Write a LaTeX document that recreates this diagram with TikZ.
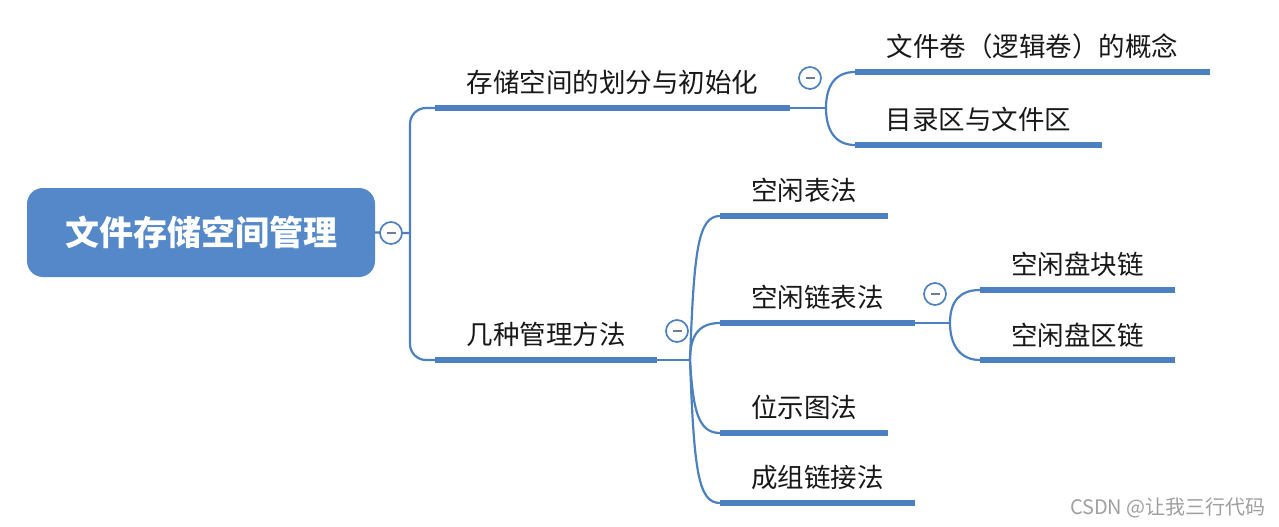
\documentclass[tikz,border=0pt]{standalone}
\usepackage{fontspec}
\setmainfont{Noto Sans CJK SC}
\newfontfamily\cjk{Noto Sans CJK SC}
\definecolor{mblue}{RGB}{76,128,192}
\definecolor{rootblue}{RGB}{84,136,201}
\definecolor{txt}{RGB}{24,24,24}
\definecolor{minusgray}{RGB}{110,125,150}
\begin{document}
\begin{tikzpicture}[x=1pt,y=-1pt,
  topic/.style={anchor=south west,inner sep=0pt,minimum height=50pt,
    font=\cjk\fontsize{26.5}{30}\selectfont,text=txt},
  uline/.style={draw=mblue,line width=5.5pt},
  conn/.style={draw=mblue,line width=2.2pt,rounded corners=16pt},
  fold/.style={circle,draw=mblue,line width=1.7pt,fill=white,minimum size=22pt,inner sep=0pt,
    font=\fontsize{6}{6}\selectfont},
]
\useasboundingbox (0,0) rectangle (1279,527);

% root
\node[rectangle,rounded corners=16pt,fill=rootblue,minimum width=348pt,minimum height=89pt,
  text=white,font=\cjk\bfseries\fontsize{34}{40}\selectfont] (root) at (201,232.5) {文件存储空间管理};

% level 1
\node[topic,minimum width=355pt] (b1) at (435,108) {存储空间的划分与初始化};
\node[topic,minimum width=222pt] (b2) at (435,360) {几种管理方法};

% level 2 under b1
\node[topic,minimum width=355pt] (b11) at (855,72) {文件卷（逻辑卷）的概念};
\node[topic,minimum width=247pt] (b12) at (855,145) {目录区与文件区};

% level 2 under b2
\node[topic,minimum width=168pt] (b21) at (720,216) {空闲表法};
\node[topic,minimum width=195pt] (b22) at (720,323) {空闲链表法};
\node[topic,minimum width=168pt] (b23) at (720,433) {位示图法};
\node[topic,minimum width=195pt] (b24) at (720,503) {成组链接法};

% level 3 under b22
\node[topic,minimum width=195pt] (b221) at (980,290) {空闲盘块链};
\node[topic,minimum width=195pt] (b222) at (980,360) {空闲盘区链};

% underlines
\foreach \n in {b1,b2,b11,b12,b21,b22,b23,b24,b221,b222}
  \draw[uline] (\n.south west) -- (\n.south east);

% junctions
\coordinate (j0) at (410,233);
\coordinate (j1) at (826,108);
\coordinate (j2) at (690,360);
\coordinate (j3) at (950,323);

% connectors
\draw[conn] (root.east) -- (j0);
\draw[conn] (j0) |- (b1.south west);
\draw[conn] (j0) |- (b2.south west);

\draw[conn] (b1.south east) -- (j1);
\draw[conn] (j1) .. controls +(0,-22) and +(-20,0) .. (b11.south west);
\draw[conn] (j1) .. controls +(0,22) and +(-20,0) .. (b12.south west);

\draw[conn] (b2.south east) -- (j2);
\draw[conn] (j2) .. controls +(4,-110) and +(-22,0) .. (b21.south west);
\draw[conn] (j2) .. controls +(0,-26) and +(-20,0) .. (b22.south west);
\draw[conn] (j2) .. controls +(3,50) and +(-22,0) .. (b23.south west);
\draw[conn] (j2) .. controls +(4,110) and +(-22,0) .. (b24.south west);

\draw[conn] (b22.south east) -- (j3);
\draw[conn] (j3) .. controls +(0,-22) and +(-20,0) .. (b221.south west);
\draw[conn] (j3) .. controls +(0,22) and +(-20,0) .. (b222.south west);

% fold markers
\node[fold] (f0) at (391,233) {\textcolor{minusgray}{\rule[0.5pt]{9pt}{1.8pt}}};
\node[fold] (f1) at (810,78) {\textcolor{minusgray}{\rule[0.5pt]{9pt}{1.8pt}}};
\node[fold] (f2) at (677,331) {\textcolor{minusgray}{\rule[0.5pt]{9pt}{1.8pt}}};
\node[fold] (f3) at (935,294) {\textcolor{minusgray}{\rule[0.5pt]{9pt}{1.8pt}}};

% watermark
\node[anchor=east,inner sep=0pt,text=gray!75,font=\cjk\fontsize{20}{22}\selectfont] (wm) at (1266,508) {CSDN @让我三行代码};
\end{tikzpicture}
\end{document}
